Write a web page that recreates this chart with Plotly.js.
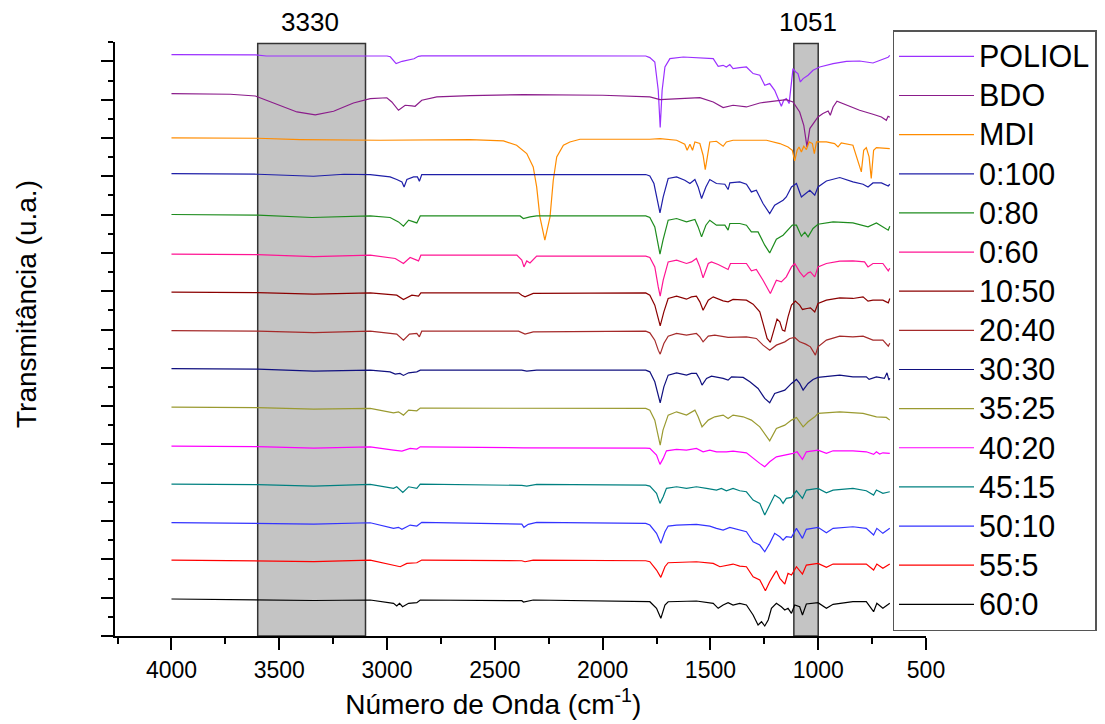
<!DOCTYPE html>
<html>
<head>
<meta charset="utf-8">
<script src="https://cdn.plot.ly/plotly-3.0.1.min.js"></script>
<style>html,body{margin:0;padding:0;background:#fff;}#chart{width:1105px;height:724px;}</style>
</head>
<body>
<div id="chart"></div>
<script>
// Wavenumbers (cm-1) and stacked transmittance values (arbitrary units)
const names = ["POLIOL","BDO","MDI","0:100","0:80","0:60","10:50","20:40","30:30","35:25","40:20","45:15","50:10","55:5","60:0"];
const colors = ["#9b30ff","#8b1c8b","#ff8c00","#1f1fa8","#1e8c1e","#ff1493","#8b0000","#a52a2a","#10107f","#9a9a30","#ff00ff","#008080","#3333ff","#ff0000","#000000"];

const wnPoliol = [4000,3610,3560,3330,3000,2985,2958,2930,2900,2875,2855,2840,2370,1800,1781,1758,1742,1733,1724,1711,1688,1626,1487,1464,1441,1426,1410,1395,1364,1333,1302,1271,1248,1225,1202,1186,1171,1160,1148,1135,1129,1117,1104,1094,1083,1070,1047,1024,993,931,869,808,746,715,676,668];
const tPoliol = [581.7,581.5,580.3,580,580.3,579.5,572.7,575,576.5,577.5,580,580.5,580.5,580.3,578.7,574.3,546,508.7,546,569.3,577.7,579.3,577.7,570,571,569.3,571.7,567.7,568.7,569.3,562.7,561,551,552.7,546,537.7,530,536,537.7,532.7,542.7,567.7,564.3,562.7,554.3,557.7,561,566,569.3,572.7,575,575.3,573.3,576,579,581];

const wnBdo = [4000,3727,3611,3511,3418,3333,3248,3156,3078,3001,2978,2947,2916,2885,2870,2839,2769,2615,2368,2000,1781,1734,1657,1549,1487,1441,1395,1333,1271,1209,1148,1117,1086,1067,1058,1052,1039,1024,1012,1001,978,954,944,931,913,869,808,746,707,684,676,668];
const tBdo = [542.7,542,540.3,532,524.3,521.3,525,533.3,537.7,538.5,534.3,526,531,530.3,530,536,539.3,540.7,541.7,541,539.3,536.7,537.7,538.7,534.3,528.7,531,529.3,533.3,535.3,536.7,534.3,524.3,511,496,489.3,507.7,512.7,516,519.3,522.7,525.3,521,529.3,535,531,526,522,519.3,516,520,519];

const wnMdi = [4000,3600,3403,3032,2615,2460,2399,2352,2322,2306,2291,2268,2244,2229,2213,2182,2152,2105,1781,1734,1657,1619,1608,1595,1583,1572,1549,1534,1524,1515,1503,1472,1441,1426,1395,1240,1178,1140,1120,1109,1098,1089,1078,1067,1055,1042,1027,1018,1008,962,924,908,893,839,815,800,789,777,764,754,743,730,668];
const tMdi = [498.3,498,496.7,496,496.7,495.3,491,482.7,469.3,449.3,419.3,396,419.3,456,479.3,491,494.3,497,497,497.7,496,492,486,492,486,494.3,492.7,481,466.7,479.3,494.3,495,490,494.3,496,496,492.7,489.3,486,475.3,486,489.3,484.3,490,486.7,494.3,492.7,482.7,494.3,494.3,492.7,489.3,493.3,491,476,464.3,486,488.7,479.3,457.7,486,488.7,487.7];

const wn0_100 = [4000,3600,3341,3200,3078,2986,2955,2931,2921,2908,2877,2859,2850,2839,1800,1781,1762,1747,1734,1719,1696,1657,1619,1595,1572,1557,1541,1521,1503,1472,1433,1418,1410,1364,1333,1310,1287,1256,1225,1202,1178,1163,1148,1124,1101,1078,1058,1039,1016,1001,962,900,839,792,769,746,707,675,668];
const t0_100 = [462.7,462,460,462,461.7,459.3,456.7,454.3,449.3,456.7,459.3,459.3,455,461.7,461.7,460.3,452.7,436,423.3,439.3,457.7,459.3,456,452.7,456.7,449.3,437.7,449.3,456.7,452.7,452,446.7,453.3,454.3,452,444.3,446,432.7,422.7,431,434.3,436,439.3,449.3,452.7,439.3,442.7,446,441,449.3,455.3,458.7,454.3,452,449.3,453.3,453.3,450.3,452];

const wn0_80 = [4000,3600,3349,3100,3078,2986,2947,2924,2900,2862,2846,2383,2368,2337,2306,1800,1781,1758,1745,1734,1720,1696,1657,1611,1572,1557,1541,1521,1503,1472,1433,1418,1410,1364,1333,1310,1279,1248,1225,1194,1163,1148,1120,1101,1078,1062,1047,1024,1001,931,839,769,730,675,668];
const t0_80 = [421.7,421,418.7,420.5,420.3,418.7,414.3,410,416,413.3,420.3,420.3,417.7,419.3,420.3,420.3,418.7,409.3,394,382,396,416,417.7,414.3,416.7,409.3,399.3,411,416,411,411,406,412.7,412.7,411,404.3,404.3,391,383.3,397,401,404.3,411,411,400,404,399.3,407.7,412,414.3,413.3,409.3,413.3,406,410];

const wn0_60 = [4000,3600,3340,3100,3078,2962,2924,2893,2854,2843,2398,2375,2365,2352,2337,2306,1800,1781,1758,1742,1733,1719,1696,1657,1611,1588,1565,1549,1534,1510,1495,1464,1418,1407,1333,1310,1287,1256,1222,1194,1171,1148,1124,1109,1086,1067,1047,1036,1016,1001,962,900,839,785,769,746,700,675,668];
const t0_60 = [382,381.5,379.5,381,381,377.7,372.7,378.7,375.3,381,381,376,369.3,375.3,373.3,380,380,378.7,369.3,349.3,340,356,374.3,376,372.7,374.3,377.7,369.3,358.3,372.7,374.3,371.7,366.7,372.7,372.7,365.3,366.7,356,342.7,356,354.3,359.3,369.3,372.7,364.3,359.3,363.3,364.3,359.3,369.3,372.7,375,375.3,374.3,369.3,372.7,372.7,365.3,368];

const wn10_50 = [4000,3600,3340,3078,2955,2924,2885,2854,2843,2390,2375,2360,2322,1800,1781,1758,1742,1733,1716,1696,1657,1611,1588,1565,1549,1534,1510,1487,1441,1418,1395,1333,1302,1271,1256,1237,1222,1206,1191,1178,1166,1155,1140,1124,1106,1086,1073,1052,1036,1016,1001,962,900,839,792,769,746,700,675,668];
const t10_50 = [344,343.5,342,343.3,341,336.7,341,340,343.3,343.3,341,339.3,342.7,343.3,341,331,317.7,310.3,324.3,337.7,340,337,339.3,340,334.3,326,336,339.3,335.3,334.3,336.7,336,332,324.3,312.7,297.7,293.7,306,317,314.3,306,305,319.3,331,335,331,326.7,327.7,328.3,324.3,332.7,336,338.3,337.7,339.3,335,336,336,333.3,337.7];

const wn20_40 = [4000,3600,3340,3078,2955,2924,2896,2862,2850,2839,2390,2375,2360,2322,1800,1781,1758,1742,1733,1716,1696,1657,1611,1565,1549,1534,1510,1480,1441,1418,1333,1287,1256,1225,1194,1155,1132,1109,1086,1058,1036,1024,1013,1001,962,900,839,792,746,700,675,668];
const t20_40 = [305.5,305,303.5,305,302,296,302,302.7,299.3,305,305,303.3,302,304.3,305,303.3,296,286,282,292.7,300,302.7,301,302.7,299.3,294.3,300,301,299.3,298.7,299.3,297.7,291,286,291,294.3,297.7,298.7,294.3,292,289.3,284.3,281,289.3,296,300,299.3,300,296,296,290,293];

const wn30_30 = [4000,3600,3340,3078,2986,2962,2940,2924,2900,2862,2846,2375,2352,2306,1800,1781,1758,1742,1733,1716,1696,1657,1611,1588,1565,1549,1539,1518,1495,1441,1418,1402,1348,1317,1279,1248,1225,1202,1178,1155,1124,1101,1086,1070,1047,1024,1001,962,900,839,777,764,730,693,681,672,668];
const t30_30 = [267.5,267,265,266,264.3,262,262.7,260.7,263.3,264.3,266,266,265,266,266,264.3,254.3,239.3,233.3,249.3,261,263.3,261,262.7,262.7,256.7,251,257.7,260,257.7,256,259.3,258.7,254.3,247.7,237.7,233.3,242.7,244.3,246,252.7,256.7,252.7,246,252.7,256.7,258.7,259.3,261,259.3,259.3,256.7,259.3,257.7,263.3,256,258];

const wn35_25 = [4000,3600,3340,3078,2970,2947,2924,2900,2862,2846,1800,1781,1758,1745,1733,1720,1696,1657,1611,1572,1557,1539,1510,1480,1441,1418,1395,1348,1310,1271,1225,1194,1155,1124,1101,1070,1047,1016,1001,900,792,730,684,668];
const t35_25 = [229,228.5,227,227.7,223.3,224.3,221,226,225.3,228,227.7,226,216,201,191,206,221,224.3,221,226,219.3,209.3,216,219.3,221,217.7,221,219.3,216,209.3,195.3,207.7,211,216,218.7,209.3,214.3,219.3,222.7,224.3,222.7,219.3,218.7,216];

const wn40_20 = [4000,3600,3340,3078,2970,2931,2893,2862,2846,2368,1800,1781,1750,1734,1719,1704,1657,1611,1565,1534,1503,1472,1426,1395,1333,1302,1271,1248,1225,1194,1148,1117,1098,1073,1055,1001,962,931,839,777,743,730,715,700,668];
const t40_20 = [190,189.5,188,189.3,186,185,187.7,187,189.3,188.3,188,187.7,181,171.7,177.7,185.3,186.7,186,187.7,184.3,186,184.3,184.3,185,183.3,177.7,172.7,169.3,174.3,179.3,181,182.7,184.3,176.7,184.3,186,182.7,185.3,185.3,184.3,181.7,184.3,182,183.3,182.7];

const wn45_15 = [4000,3600,3340,3078,2970,2955,2927,2900,2862,2846,2375,2352,2306,1800,1781,1750,1734,1719,1704,1657,1611,1565,1518,1472,1449,1426,1395,1364,1333,1302,1271,1248,1225,1202,1178,1163,1148,1124,1101,1073,1055,1001,962,931,839,777,743,730,700,668];
const t45_15 = [152,151.5,150,151.7,147.7,149.3,143.7,149.3,147.7,152,150.7,150,151.7,151,150,142.7,132.7,139.3,147.7,149.3,147.7,149.3,147.7,146,147.7,145.3,147.7,145.3,144.3,136,132.7,121,131,141,137.7,132.7,137.7,138.7,145.3,137.7,146,147.7,143.3,146,147.7,145.3,141,146,142.7,144.3];

const wn50_10 = [4000,3600,3340,3078,2970,2947,2931,2893,2862,2839,2375,2365,2345,2306,1800,1781,1750,1730,1711,1696,1657,1565,1503,1472,1441,1410,1364,1333,1302,1271,1248,1225,1202,1178,1163,1148,1124,1101,1073,1055,1001,962,931,839,777,743,728,700,668];
const t50_10 = [113.5,113,112,113.3,107.7,108.7,106.7,111,110,113.7,112,108.7,111.7,113.7,112.7,111,102.7,92.7,104.3,110,111,111.7,110,107.7,106,108.7,106,104.3,94.3,91,84.3,92.7,102.7,99.3,96,99.3,98.7,107.7,97.7,106.7,108.7,103.3,107.7,109.3,107.7,101,107.7,102.7,107.7];

const wn55_5 = [4000,3600,3340,3078,2970,2939,2908,2862,2839,2375,2360,2322,1800,1781,1750,1730,1711,1696,1565,1487,1456,1426,1395,1364,1333,1302,1271,1245,1225,1202,1194,1178,1155,1140,1124,1101,1073,1055,1001,962,931,839,777,743,728,700,668];
const t55_5 = [76,75.5,74.5,76,71,69.3,72.7,73.3,76,75.3,74.3,76,75.3,74.3,66,58.7,69.3,73.3,74.3,72.7,69.3,71,72,70,69.3,59.3,56,45.3,54.3,62.7,65.3,57.7,52,62.7,61,69.3,62,71,72.7,68.7,72,72,72,66,72,67.7,72];

const wn60_0 = [4000,3600,3340,3078,2970,2955,2942,2928,2900,2862,2846,2375,2367,2322,1800,1781,1750,1730,1711,1696,1565,1487,1464,1441,1418,1395,1364,1333,1302,1279,1263,1248,1232,1217,1194,1171,1155,1140,1124,1109,1086,1073,1055,1001,962,931,839,777,743,728,700,668];
const t60_0 = [37,36.5,35.5,36,32.7,30,32.7,29.3,32.7,33.3,36,35.3,34,36,35,34.3,27.7,17.7,31,34.3,35,32.7,27.7,31,33.3,31,32.7,31,21,11,14.3,10,16,27.7,32.7,29.3,26,27.7,22.7,31,29.3,21,32,33.3,27.7,31.7,34.3,34.3,24.3,32.7,27.7,32.7];

// highlighted bands (cm-1) and their labels
const bands = [[3600,3100],[1113,1000]];
const bandLabels = ["3330","1051"];
const bandLabelPos = [3356,1046];

const wnAll = [wnPoliol,wnBdo,wnMdi,wn0_100,wn0_80,wn0_60,wn10_50,wn20_40,wn30_30,wn35_25,wn40_20,wn45_15,wn50_10,wn55_5,wn60_0];
const tAll = [tPoliol,tBdo,tMdi,t0_100,t0_80,t0_60,t10_50,t20_40,t30_30,t35_25,t40_20,t45_15,t50_10,t55_5,t60_0];

const FONT = "Liberation Sans, Arial, Helvetica, sans-serif";
const traces = names.map((n,i)=>({
  type:"scatter", mode:"lines",
  name:'<span style="font-size:30.5px">' + n + '</span>',
  x:wnAll[i], y:tAll[i],
  line:{color:colors[i], width:1.2},
  hoverinfo:"skip"
}));

const yTop = 594.3, boxTop = 592.7, major = 38.33;
const pad = n => "&nbsp;".repeat(n);

const layout = {
  width:1105, height:724,
  margin:{l:115, r:178.5, t:41.7, b:88, autoexpand:false},
  paper_bgcolor:"#ffffff", plot_bgcolor:"#ffffff",
  font:{family:FONT, color:"#000"},
  showlegend:true,
  legend:{x:0.9587, y:1.0197, xanchor:"left", yanchor:"top",
    font:{family:FONT, size:27.8, color:"#000"},
    bordercolor:"#555", borderwidth:1.5, bgcolor:"#fff",
    itemwidth:75, tracegroupgap:0, maxheight:700},
  xaxis:{range:[4262,500], showline:true, linecolor:"#000", linewidth:2,
    ticks:"outside", tickmode:"linear", tick0:500, dtick:500, ticklen:12, tickwidth:2, tickcolor:"#000",
    minor:{dtick:250, ticks:"outside", ticklen:6, tickwidth:2, tickcolor:"#000"},
    tickfont:{family:FONT, size:23, color:"#000"},
    showgrid:false, zeroline:false,
    title:{text:"Número de Onda (cm<sup>-1</sup>)" + pad(7), font:{family:FONT, size:28, color:"#000"}, standoff:13}},
  yaxis:{range:[0,yTop], showline:true, linecolor:"#000", linewidth:2,
    ticks:"outside", tickmode:"linear", tick0:0, dtick:major, ticklen:12, tickwidth:2, tickcolor:"#000",
    minor:{dtick:major/2, ticks:"outside", ticklen:5, tickwidth:2, tickcolor:"#000"},
    showticklabels:false, showgrid:false, zeroline:false,
    title:{text:pad(9) + "Transmitância (u.a.)", font:{family:FONT, size:28, color:"#000"}, standoff:56}},
  shapes: bands.map(b=>({type:"rect", xref:"x", yref:"y", x0:b[0], x1:b[1], y0:0, y1:boxTop,
    fillcolor:"#c4c4c4", line:{color:"#333", width:1.5}, layer:"below"})),
  annotations: bandLabels.map((t,i)=>({x:bandLabelPos[i], xref:"x", y:1.0332, yref:"paper",
    text:t, showarrow:false, xanchor:"center", yanchor:"middle",
    font:{family:FONT, size:26, color:"#000"}}))
};

Plotly.newPlot("chart", traces, layout, {displayModeBar:false, staticPlot:true});
</script>
</body>
</html>
